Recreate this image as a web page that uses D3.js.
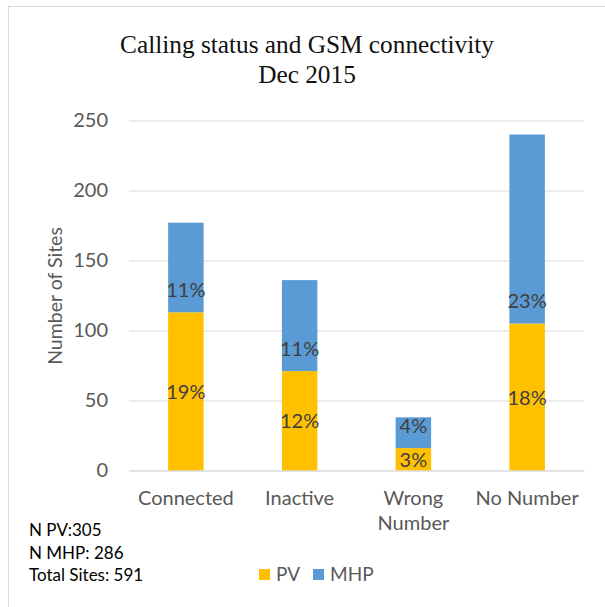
<!DOCTYPE html>
<html lang="en">
<head>
<meta charset="UTF-8">
<title>Calling status and GSM connectivity</title>
<style>
    body { margin: 0; background: #fff; }
    svg { display: block; }
    .lbl { font-family: Lato, "Open Sans", sans-serif; }
    .grid line { stroke: #d9d9d9; stroke-width: 1; }
    .grid text { fill: #595959; font-size: 20px; font-family: Lato, sans-serif; }
    .xax text { fill: #595959; font-size: 20px; font-family: Lato, sans-serif; }
</style>
</head>
<body>
<svg width="605" height="607"></svg>
<script src="https://d3js.org/d3.v7.min.js"></script>
<script>
// data
var categories = ["Connected", "Inactive", "Wrong Number", "No Number"];
var pvValues  = [113, 71, 16, 105];
var mhpValues = [64, 65, 22, 135];
var pvLabels  = ["19%", "12%", "3%", "18%"];
var mhpLabels = ["11%", "11%", "4%", "23%"];
var yTicks = [0, 50, 100, 150, 200, 250];
var notes = ["N PV:305", "N MHP: 286", "Total Sites: 591"];
var seriesNames = ["PV", "MHP"];
var colors = ["#FFC000", "#5B9BD5"];

var svg = d3.select("svg");
var plotL = 129, plotR = 584, plotT = 120.5, plotB = 470.5;

// outer chart frame
svg.append("rect")
    .attr("x", 8.5).attr("y", 6.5)
    .attr("width", 700).attr("height", 700)
    .attr("fill", "none").attr("stroke", "#d9d9d9");

// title
var title = svg.append("text")
    .attr("text-anchor", "middle")
    .style("font-family", "'Liberation Serif', 'DejaVu Serif', serif")
    .style("font-size", "25.3px")
    .attr("fill", "#111");
title.append("tspan").attr("x", 307).attr("y", 53).text("Calling status and GSM connectivity");
title.append("tspan").attr("x", 307).attr("y", 83).text("Dec 2015");

var x = d3.scaleBand().domain(categories).range([plotL, plotR])
    .paddingInner(0.688).paddingOuter(0.344);
var y = d3.scaleLinear().domain([0, 250]).range([plotB, plotT]);

// y axis + gridlines
var yAxis = svg.append("g")
    .attr("class", "grid")
    .attr("transform", "translate(" + plotL + ",0)")
    .call(d3.axisLeft(y).tickValues(yTicks).tickSize(-(plotR - plotL)).tickPadding(21));
yAxis.select(".domain").remove();

svg.append("text")
    .attr("class", "lbl")
    .attr("transform", "translate(62,296) rotate(-90)")
    .attr("text-anchor", "middle")
    .style("font-size", "19.5px")
    .attr("fill", "#595959")
    .text("Number of Sites");

// stacked bars
var rows = categories.map(function(c, i) {
    return { cat: c, pv: pvValues[i], mhp: mhpValues[i] };
});
var stack = d3.stack().keys(["pv", "mhp"])(rows);

svg.selectAll("g.series")
    .data(stack)
    .enter().append("g")
    .attr("class", "series")
    .attr("fill", function(d, i) { return colors[i]; })
  .selectAll("rect")
    .data(function(d) { return d; })
    .enter().append("rect")
    .attr("x", function(d) { return x(d.data.cat); })
    .attr("width", x.bandwidth())
    .attr("y", function(d) { return y(d[1]); })
    .attr("height", function(d) { return y(d[0]) - y(d[1]); });

// PV labels centred, MHP labels at inside base
svg.selectAll("text.pv")
    .data(stack[0])
    .enter().append("text")
    .attr("class", "lbl pv")
    .attr("x", function(d) { return x(d.data.cat) + x.bandwidth() / 2; })
    .attr("y", function(d) { return (y(d[0]) + y(d[1])) / 2; })
    .attr("dy", "0.38em")
    .attr("text-anchor", "middle")
    .style("font-size", "20px")
    .attr("fill", "#404040")
    .text(function(d, i) { return pvLabels[i]; });

svg.selectAll("text.mhp")
    .data(stack[1])
    .enter().append("text")
    .attr("class", "lbl mhp")
    .attr("x", function(d) { return x(d.data.cat) + x.bandwidth() / 2; })
    .attr("y", function(d) { return y(d[0]) - 23; })
    .attr("dy", "0.38em")
    .attr("text-anchor", "middle")
    .style("font-size", "20px")
    .attr("fill", "#404040")
    .text(function(d, i) { return mhpLabels[i]; });

// x axis labels
var xAxis = svg.append("g")
    .attr("class", "xax")
    .attr("transform", "translate(0," + plotB + ")")
    .call(d3.axisBottom(x).tickSize(0).tickPadding(20));
xAxis.select(".domain").attr("stroke", "#d9d9d9");

xAxis.selectAll(".tick text").each(function() {
    var t = d3.select(this);
    if (this.getComputedTextLength() > x.step()) {
        var words = t.text().split(" ");
        t.text(null);
        t.append("tspan").attr("x", 0).text(words[0]);
        t.append("tspan").attr("x", 0).attr("dy", "1.25em").text(words.slice(1).join(" "));
    }
});

// notes
svg.selectAll("text.note")
    .data(notes)
    .enter().append("text")
    .attr("class", "lbl note")
    .attr("x", 29)
    .attr("y", function(d, i) { return 536 + i * 22.5; })
    .style("font-size", "17px")
    .attr("fill", "#000")
    .text(function(d) { return d; });

// legend
var legX = [259, 313];
var leg = svg.selectAll("g.leg")
    .data(seriesNames)
    .enter().append("g")
    .attr("class", "leg")
    .attr("transform", function(d, i) { return "translate(" + legX[i] + ",569)"; });
leg.append("rect").attr("width", 11).attr("height", 11)
    .attr("fill", function(d, i) { return colors[i]; });
leg.append("text")
    .attr("class", "lbl")
    .attr("x", 17).attr("y", 12)
    .style("font-size", "19px")
    .attr("fill", "#595959")
    .text(function(d) { return d; });
</script>
</body>
</html>
